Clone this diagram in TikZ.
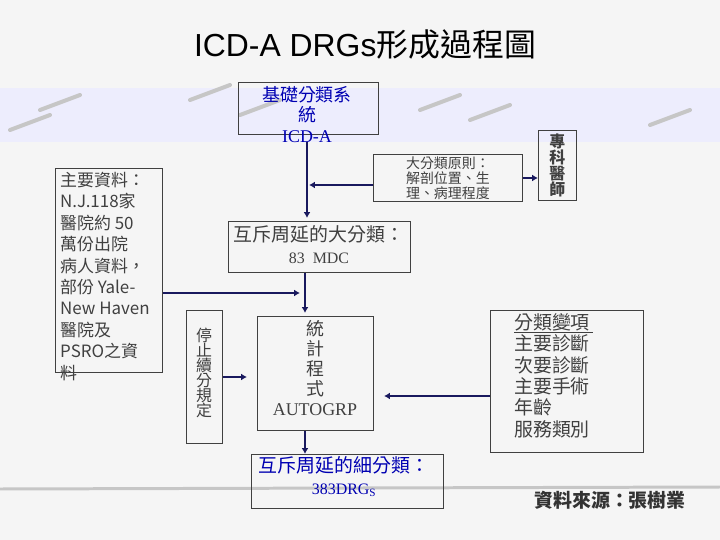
\documentclass[tikz,border=0pt]{standalone}
\usepackage{fontspec}
\setmainfont{Liberation Serif}
\newfontfamily\cjk{Noto Sans CJK TC}
\newfontfamily\ttl{Liberation Sans}
\begin{document}
\begin{tikzpicture}[x=1bp,y=-1bp,
  box/.style={draw=black!75,line width=0.8pt},
  arr/.style={draw=black!70!blue!90,line width=2.6pt,-{Latex[length=6pt,width=7pt]}},
  txt/.style={font=\cjk\fontsize{18}{20}\selectfont,text=black!75,align=center,inner sep=0pt}]
\usetikzlibrary{arrows.meta}
\fill[white!92!gray] (0,0) rectangle (720,540);
\useasboundingbox (0,0) rectangle (720,540);
\fill[gray!22!blue!8] (0,88) rectangle (720,142);
\foreach \a/\b in {10/130, 40/110, 190/100, 240/115, 420/110, 470/120, 650/125} {\draw[gray!45,line width=4pt,line cap=round] (\a,\b) -- ++(40,-15);}
\draw[gray!45,line width=3pt] (0,489) -- (720,487);
\node[font=\ttl\fontsize{32}{36}\selectfont] (title) at (365,45) {ICD-A DRGs{\cjk 形成過程圖}};
\node[box,minimum width=140bp,minimum height=52bp,anchor=north west] (base) at (238,82) {};
\node[txt,text=blue!70!black,anchor=north] (basetxt) at (307,86) {\cjk 基礎分類系\\\cjk 統\\[1pt]\rmfamily ICD-A};
\node[box,minimum width=149bp,minimum height=47bp,anchor=north west,txt,font=\cjk\fontsize{14}{15}\selectfont,align=left] (rule) at (373,154) {大分類原則：\\解剖位置、生\\理、病理程度};
\node[box,minimum width=38bp,minimum height=70bp,anchor=north west,txt,font=\cjk\bfseries\fontsize{16}{14}\selectfont] (spec) at (538,130) {專\\科\\醫\\師};
\node[box,minimum width=182bp,minimum height=51bp,anchor=north west] (mdc) at (228,221) {};
\node[txt,anchor=north,font=\cjk\fontsize{19}{22}\selectfont] (mdctxt) at (319,225) {互斥周延的大分類：\\\rmfamily\fontsize{16}{18}\selectfont 83\ \ MDC};
\node[box,minimum width=107bp,minimum height=204bp,anchor=north west] (data) at (55,168) {};
\node[txt,anchor=north west,align=left,font=\cjk\fontsize{17}{21.5}\selectfont] (datatxt) at (60,172) {主要資料：\\N.J.118家\\醫院約 50\\萬份出院\\病人資料，\\部份 Yale-\\New Haven\\醫院及\\PSRO之資\\料};
\node[box,minimum width=36bp,minimum height=133bp,anchor=north west] (stop) at (186,310) {};
\node[txt,anchor=north,font=\cjk\fontsize{16}{15}\selectfont] (stoptxt) at (204,328) {停\\止\\續\\分\\規\\定};
\node[box,minimum width=116bp,minimum height=114bp,anchor=north west] (auto) at (257,316) {};
\node[txt,anchor=north,font=\cjk\fontsize{18}{20}\selectfont] (autotxt) at (315,320) {統\\計\\程\\式\\\rmfamily AUTOGRP};
\node[box,minimum width=153bp,minimum height=142bp,anchor=north west] (var) at (490,310) {};
\node[txt,anchor=north west,align=left,font=\cjk\fontsize{19}{21.5}\selectfont] (vartxt) at (514,313) {\underline{分類變項\,}\\主要診斷\\次要診斷\\主要手術\\年齡\\服務類別};
\node[box,minimum width=192bp,minimum height=54bp,anchor=north west] (drg) at (251,454) {};
\node[txt,text=blue!70!black,anchor=north,font=\cjk\fontsize{19}{22}\selectfont] (drgtxt) at (344,456) {互斥周延的細分類：\\\rmfamily\fontsize{16}{18}\selectfont 383DRG$_{\mathrm{S}}$};
\node[font=\cjk\bfseries\fontsize{19}{20}\selectfont,text=black!80] (src) at (610,500) {資料來源：張樹業};
\coordinate (j1) at (307,142);
\coordinate (j2) at (307,218);
\draw[arr] (j1) -- (j2);
\draw[arr] (rule.west |- 0,185) -- (309,185);
\draw[arr] (rule.east |- 0,178) -- (spec.west |- 0,178);
\draw[arr] (mdc.south -| 305,0) -- (305,313);
\draw[arr] (data.east |- 0,293) -- (300,293);
\draw[arr] (stop.east |- 0,377) -- (247,377);
\draw[arr] (var.west |- 0,396) -- (384,396);
\draw[arr] (auto.south -| 305,0) -- (drg.north -| 305,0);
\end{tikzpicture}
\end{document}
